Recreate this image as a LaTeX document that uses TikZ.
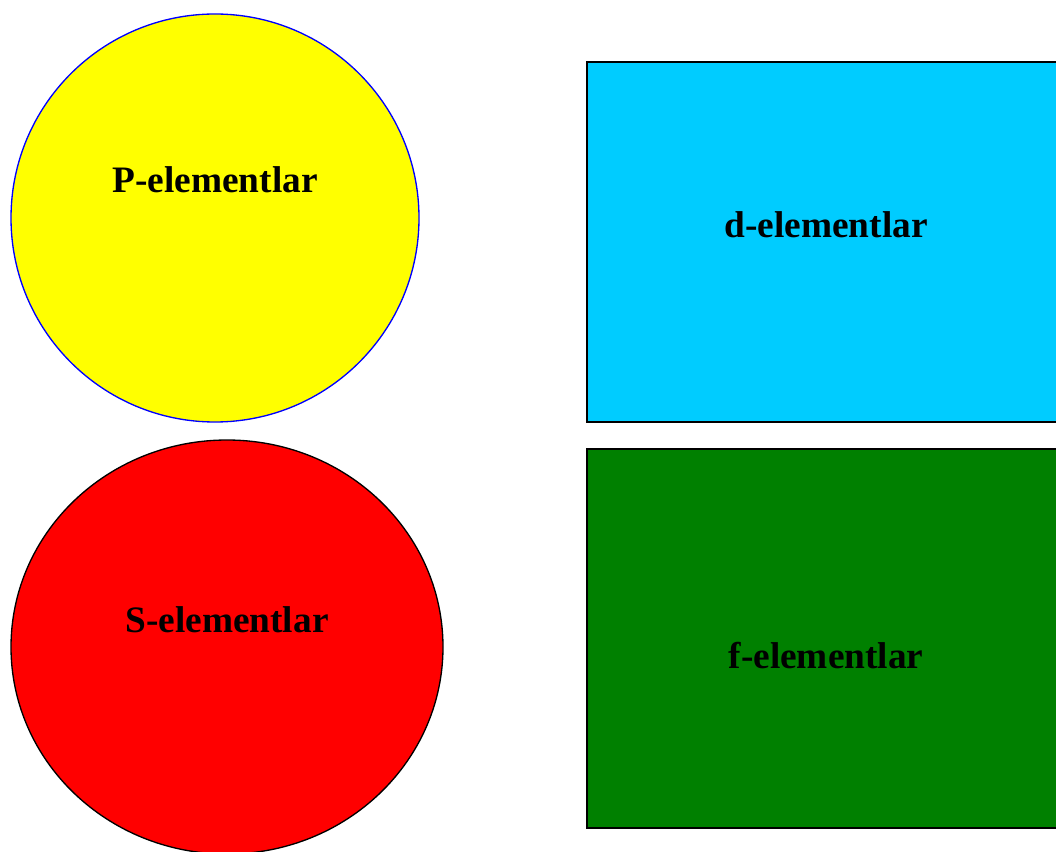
\documentclass[tikz,border=0pt]{standalone}
\usepackage{fontspec}
\setmainfont{Liberation Serif}
\definecolor{pyellow}{RGB}{255,255,0}
\definecolor{pblue}{RGB}{0,0,255}
\definecolor{sred}{RGB}{255,0,0}
\definecolor{dcyan}{RGB}{0,204,255}
\definecolor{fgreen}{RGB}{0,128,0}
\begin{document}
\begin{tikzpicture}[x=0.75pt,y=-0.75pt,
  lbl/.style={font=\fontsize{28}{33}\selectfont\bfseries, text=black},
  shp/.style={line width=1.2pt}]
\useasboundingbox (0,0) rectangle (1056,852);
\clip (0,0) rectangle (1056,852);
\fill[white] (0,0) rectangle (1056,852);
\draw[shp, draw=pblue, fill=pyellow, line width=1pt] (215,218) ellipse [x radius=204, y radius=204];
\draw[shp, draw=black, fill=sred, line width=1pt] (227,647) ellipse [x radius=216, y radius=207];
\draw[shp, draw=black, fill=dcyan] (587,62) rectangle (1070,422);
\draw[shp, draw=black, fill=fgreen] (587,449) rectangle (1070,828);
\node[lbl] (p) at (215,180) {P-elementlar};
\node[lbl] (d) at (826,225) {d-elementlar};
\node[lbl] (s) at (227,620) {S-elementlar};
\node[lbl] (f) at (826,656) {f-elementlar};
\end{tikzpicture}
\end{document}
